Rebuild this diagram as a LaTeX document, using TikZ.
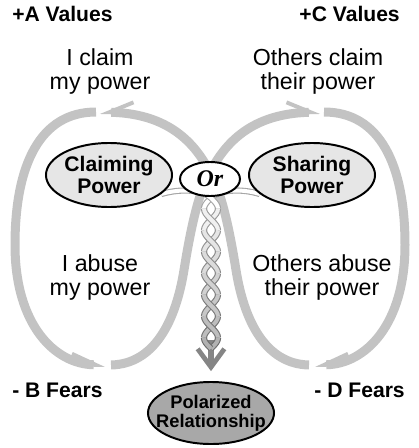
\documentclass[tikz,border=0pt]{standalone}
\usepackage{fontspec}
\setmainfont{Liberation Sans}
\newfontfamily\orfont{Liberation Serif}
\usepackage{tikz}
\usetikzlibrary{arrows.meta,shapes.geometric,backgrounds}
\definecolor{loopgray}{RGB}{195,195,195}
\definecolor{ovalgray}{RGB}{230,230,230}
\definecolor{polargray}{RGB}{168,168,168}

\begin{document}
\begin{tikzpicture}[x=0.025cm,y=-0.025cm]
\tikzset{oval/.style={draw,ellipse,line width=1.4pt,inner sep=0pt,align=center,font=\fontsize{15}{16}\selectfont\bfseries}}
\tikzset{tag/.style={inner sep=0pt,align=center,font=\fontsize{16.5}{16.5}\selectfont}}
\tikzset{pole/.style={inner sep=0pt,font=\fontsize{15}{15}\selectfont\bfseries}}
\tikzset{flow/.style={loopgray,line width=6.4pt}}
\tikzset{headL/.style={-{Straight Barb[left,length=17pt,width=15pt,line width=2.8pt]}}}
\tikzset{headR/.style={-{Straight Barb[right,length=17pt,width=15pt,line width=2.8pt]}}}
\tikzset{tube/.style={draw=black!#1,line width=0.8pt,double distance=2.8pt}}
\useasboundingbox (0,0) rectangle (419,448);
% ovals
\node[oval,fill=ovalgray,minimum width=3.15cm,minimum height=1.6cm] (claim) at (109,175) {Claiming\\Power};
\node[oval,fill=ovalgray,minimum width=3.15cm,minimum height=1.6cm] (share) at (312,175) {Sharing\\Power};
\node[oval,fill=white,minimum width=1.5cm,minimum height=0.85cm,font=\fontsize{17}{17}\selectfont\orfont\bfseries\itshape] (or) at (210,179) {Or};
\node[oval,fill=polargray,minimum width=3.15cm,minimum height=1.55cm] (polar) at (211,413) {};
\node[inner sep=0pt,align=center,font=\fontsize{13}{13.5}\selectfont\bfseries] (polartext) at (polar.center) {Polarized\\Relationship};
% corner labels
\node[pole,anchor=base west] (valA) at (12,21) {+A Values};
\node[pole,anchor=base east] (valC) at (400,21) {+C Values};
\node[pole,anchor=base west] (fearB) at (12,397) {- B Fears};
\node[pole,anchor=base east] (fearD) at (405,397) {- D Fears};
% loop texts
\node[tag,anchor=base] (claimMe) at (100,89) {I claim\\my power};
\node[tag,anchor=base] (claimThem) at (318,89) {Others claim\\their power};
\node[tag,anchor=base] (abuseMe) at (100,295) {I abuse\\my power};
\node[tag,anchor=base] (abuseThem) at (322,295) {Others abuse\\their power};
\begin{scope}[on background layer]
% figure-eight loop
\draw[flow,headL] (96,112) .. controls (40,112) and (15,165) .. (15,245) .. controls (15,325) and (55,364) .. (105,365);
\draw[flow,headL] (111,365) .. controls (155,364) and (176,320) .. (184,270) .. controls (192,220) and (200,190) .. (210,172) .. controls (222,150) and (245,114) .. (320,112);
\draw[flow,headR] (324,112) .. controls (380,112) and (405,165) .. (405,245) .. controls (405,325) and (365,364) .. (315,365);
\draw[flow,headR] (309,365) .. controls (265,364) and (244,320) .. (236,270) .. controls (228,220) and (220,190) .. (210,172) .. controls (198,150) and (175,114) .. (100,112);
% rope arrow
\coordinate (twistend) at (211,340);
\draw[black!48,line width=4pt,shorten >=7pt,-{Straight Barb[length=13pt,width=19pt,line width=3.4pt]}] (twistend) -- (polar.north);
% strands from the ovals
\draw[tube=35,double=white] (share.200) .. controls (240,188) and (219,190) .. (211,198)
  -- plot[variable=\t,domain=198:208.75,samples=6] ({211-7*sin((\t-198)/21.5*180)},\t);
\draw[tube=35,double=white] (claim.340) .. controls (182,188) and (203,190) .. (211,198)
  -- plot[variable=\t,domain=198:208.75,samples=6] ({211+7*sin((\t-198)/21.5*180)},\t);
% twisted rope
\foreach \k in {1,...,7} {
  \pgfmathsetmacro\ya{198+21.5*\k-10.75}
  \pgfmathsetmacro\yb{min(348.5,198+21.5*\k+10.75)}
  \pgfmathtruncatemacro\rim{36+3*\k}
  \pgfmathtruncatemacro\fill{2+4*\k}
  \ifodd\k
    \draw[tube=\rim,double=black!\fill] plot[variable=\t,domain=\ya:\yb,samples=10] ({211+7*sin((\t-198)/21.5*180)},\t);
    \draw[tube=\rim,double=black!\fill] plot[variable=\t,domain=\ya:\yb,samples=10] ({211-7*sin((\t-198)/21.5*180)},\t);
  \else
    \draw[tube=\rim,double=black!\fill] plot[variable=\t,domain=\ya:\yb,samples=10] ({211-7*sin((\t-198)/21.5*180)},\t);
    \draw[tube=\rim,double=black!\fill] plot[variable=\t,domain=\ya:\yb,samples=10] ({211+7*sin((\t-198)/21.5*180)},\t);
  \fi
}
\end{scope}
\end{tikzpicture}
\end{document}
